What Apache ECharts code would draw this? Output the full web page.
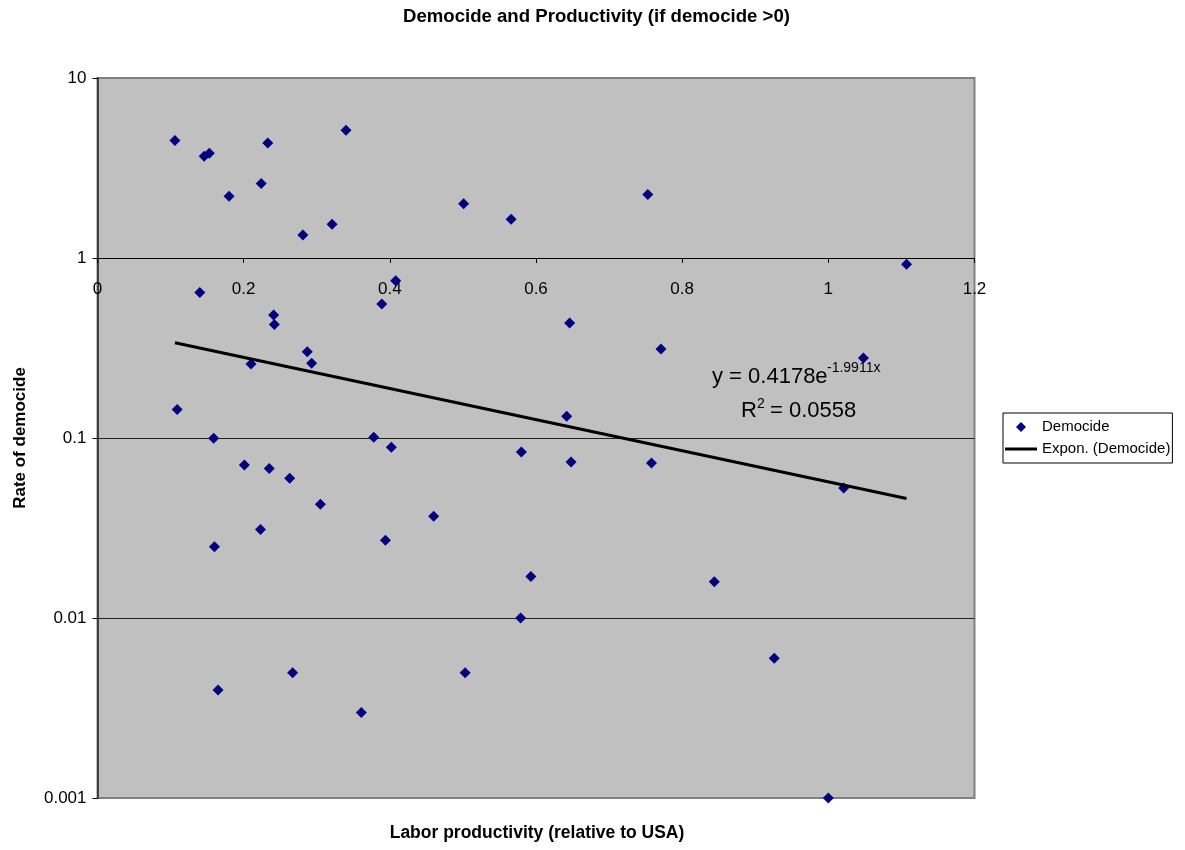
<!DOCTYPE html>
<html><head><meta charset="utf-8">
<script src="https://cdn.jsdelivr.net/npm/echarts@6/dist/echarts.min.js"></script>
<style>html,body{margin:0;padding:0;background:#fff}#c{width:1185px;height:850px}</style>
</head><body><div id="c"></div>
<script>
// Labor productivity (relative to USA)
const productivity = [0.106, 0.146, 0.153, 0.180, 0.224, 0.233, 0.340, 0.281, 0.321, 0.501,
  0.566, 0.753, 1.107, 0.140, 0.389, 0.241, 0.242, 0.287, 0.293, 0.210,
  0.109, 0.159, 0.378, 0.408, 0.646, 0.771, 0.642, 0.402, 0.580, 1.048,
  1.021, 0.201, 0.235, 0.263, 0.305, 0.223, 0.160, 0.394, 0.648, 0.758,
  0.460, 0.593, 0.579, 0.844, 0.926, 0.165, 0.267, 0.361, 0.503, 1.000];
// Rate of democide
const democide = [4.49, 3.67, 3.82, 2.20, 2.59, 4.36, 5.12, 1.34, 1.54, 2.00,
  1.64, 2.25, 0.923, 0.644, 0.555, 0.482, 0.427, 0.301, 0.260, 0.258,
  0.144, 0.0996, 0.101, 0.748, 0.436, 0.312, 0.132, 0.0887, 0.0836, 0.278,
  0.0528, 0.0708, 0.0676, 0.0597, 0.0429, 0.031, 0.0249, 0.027, 0.0736, 0.0726,
  0.0367, 0.0170, 0.0100, 0.0159, 0.00597, 0.00398, 0.00497, 0.00299, 0.00497, 0.001];
// Exponential trend line end points (straight on log scale)
const trendX = [0.106, 1.107];
const trendY = [0.338, 0.0461];

const titleText = 'Democide and Productivity (if democide >0)';
const xName = 'Labor productivity (relative to USA)';
const yName = 'Rate of democide';
const seriesNames = ['Democide', 'Expon. (Democide)'];
const eqMain = 'y = 0.4178e';
const eqExp = '-1.9911x';
const r2Main = 'R';
const r2Sup = '2';
const r2Val = '= 0.0558';

const FONT = '"Liberation Sans", Arial, sans-serif';
const chart = echarts.init(document.getElementById('c'), null, {renderer: 'canvas'});

const scatterData = productivity.map((x, i) => [x, democide[i]]);
const trendData = trendX.map((x, i) => [x, trendY[i]]);

chart.setOption({
  animation: false,
  backgroundColor: '#fff',
  textStyle: {fontFamily: FONT},
  title: {
    text: titleText, left: 398, top: 2,
    textStyle: {fontSize: 18.6, fontWeight: 'bold', color: '#000', fontFamily: FONT}
  },
  grid: {
    left: 97.5, top: 78, width: 877, height: 720,
    show: true, backgroundColor: '#c0c0c0', borderColor: '#808080', borderWidth: 2,
    outerBoundsMode: 'none', containLabel: false
  },
  legend: {
    orient: 'vertical', left: 1003, top: 413,
    padding: [5, 2, 5, 2], itemGap: 4, itemWidth: 32, itemHeight: 10,
    borderColor: '#000', borderWidth: 1, backgroundColor: '#fff',
    textStyle: {fontSize: 15, color: '#000', fontFamily: FONT, lineHeight: 18},
    data: [
      {name: seriesNames[0], icon: 'path://M5,0L10,5L5,10L0,5Z'},
      {name: seriesNames[1], icon: 'path://M0,0L32,0L32,3L0,3Z'}
    ]
  },
  xAxis: {
    type: 'value', min: 0, max: 1.2, interval: 0.2,
    position: 'bottom', offset: -540,
    axisLine: {show: true, onZero: false, lineStyle: {color: '#000', width: 1}},
    axisTick: {show: true, length: 5, lineStyle: {color: '#000'}},
    axisLabel: {fontSize: 17, margin: 23, color: '#000', fontFamily: FONT},
    splitLine: {show: false}
  },
  yAxis: {
    type: 'log', logBase: 10, min: 0.001, max: 10,
    name: yName, nameLocation: 'middle', nameGap: 69, nameRotate: 90,
    nameTextStyle: {fontSize: 17, fontWeight: 'bold', color: '#000', fontFamily: FONT},
    axisLine: {show: true, lineStyle: {color: '#404040', width: 2}},
    axisTick: {show: true, length: 5, lineStyle: {color: '#000'}},
    axisLabel: {fontSize: 17, margin: 11, color: '#000', fontFamily: FONT,
      formatter: v => String(Number(v.toPrecision(6)))},
    splitLine: {show: true, showMinLine: false, showMaxLine: false,
      lineStyle: {color: '#222', width: 1}}
  },
  graphic: [
    {type: 'text', x: 537, y: 824, style: {text: xName, fill: '#000',
      font: 'bold 17.5px ' + FONT, textAlign: 'center', textVerticalAlign: 'top'}},
    {type: 'text', left: 712, top: 366, style: {text: eqMain, fill: '#000', font: '22px ' + FONT}},
    {type: 'text', left: 827, top: 361, style: {text: eqExp, fill: '#000', font: '14px ' + FONT}},
    {type: 'text', left: 741, top: 400, style: {text: r2Main, fill: '#000', font: '22px ' + FONT}},
    {type: 'text', left: 757, top: 397, style: {text: r2Sup, fill: '#000', font: '14px ' + FONT}},
    {type: 'text', left: 770, top: 400, style: {text: r2Val, fill: '#000', font: '22px ' + FONT}}
  ],
  series: [
    {
      name: seriesNames[0], type: 'scatter', data: scatterData,
      symbol: 'diamond', symbolSize: 11,
      itemStyle: {color: '#000080', opacity: 1}, z: 2
    },
    {
      name: seriesNames[1], type: 'line', data: trendData,
      showSymbol: false, symbol: 'none',
      lineStyle: {color: '#000', width: 3}, itemStyle: {color: '#000'}, z: 3
    }
  ]
});
</script>
</body></html>
